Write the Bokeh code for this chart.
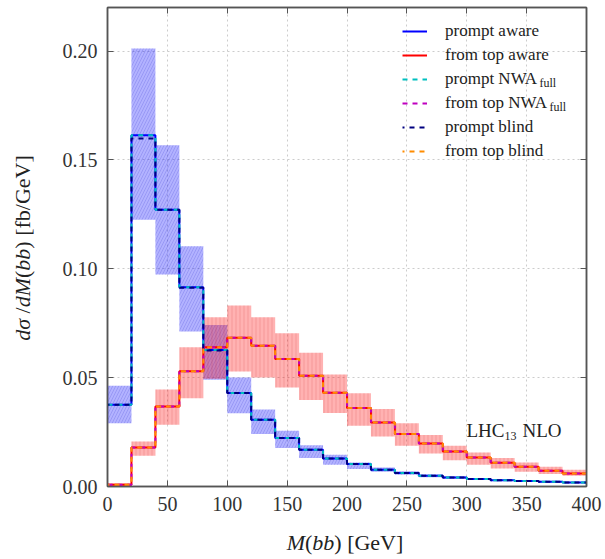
import math
from bokeh.plotting import figure
from bokeh.models import (ColumnDataSource, Legend, LegendItem, Label, LinearAxis,
                          FixedTicker, Range1d, CustomJSTickFormatter, Div)
from bokeh.layouts import row, column
from bokeh.embed import file_html
from bokeh.resources import INLINE

# ---- data ----
edges = list(range(0, 401, 20))

prompt_central = [0.0376, 0.1613, 0.1271, 0.0915, 0.0627, 0.0430, 0.0307, 0.0223, 0.0169,
                  0.0129, 0.0103, 0.0077, 0.0062, 0.0049, 0.0041, 0.0034, 0.0029, 0.0025,
                  0.0022, 0.0018]
prompt_blind = [0.0376, 0.1598, 0.1271, 0.0913, 0.0625, 0.0430, 0.0307, 0.0223, 0.0169,
                0.0129, 0.0103, 0.0077, 0.0062, 0.0049, 0.0041, 0.0034, 0.0029, 0.0025,
                0.0022, 0.0018]
prompt_hi = [0.0463, 0.2012, 0.1567, 0.1104, 0.0742, 0.0501, 0.0354, 0.0256, 0.0190,
             0.0146, 0.0110, 0.0087, 0.0070, 0.0055, 0.0046, 0.0038, 0.0033, 0.0028,
             0.0025, 0.0021]
prompt_lo = [0.0290, 0.1225, 0.0974, 0.0712, 0.0490, 0.0336, 0.0241, 0.0177, 0.0131,
             0.0100, 0.0080, 0.0068, 0.0054, 0.0043, 0.0036, 0.0030, 0.0025, 0.0022,
             0.0019, 0.0016]

top_central = [0.0008, 0.0179, 0.0368, 0.0529, 0.0639, 0.0683, 0.0647, 0.0586, 0.0509,
               0.0431, 0.0361, 0.0294, 0.0241, 0.0198, 0.0161, 0.0133, 0.0109, 0.0091,
               0.0072, 0.0060]
top_hi = [0.0015, 0.0207, 0.0445, 0.0639, 0.0777, 0.0831, 0.0777, 0.0704, 0.0614,
          0.0514, 0.0428, 0.0356, 0.0290, 0.0236, 0.0187, 0.0156, 0.0131, 0.0110,
          0.0091, 0.0077]
top_lo = [0.0002, 0.0141, 0.0284, 0.0405, 0.0495, 0.0528, 0.0501, 0.0455, 0.0397,
          0.0338, 0.0279, 0.0230, 0.0187, 0.0152, 0.0121, 0.0100, 0.0083, 0.0068,
          0.0057, 0.0049]

x_ticks = [0, 50, 100, 150, 200, 250, 300, 350, 400]
y_ticks = [0.00, 0.05, 0.10, 0.15, 0.20]

SERIF = "Liberation Serif"
YDIV_W = 45
XDIV_H = 33

p = figure(width=605 - YDIV_W, height=559 - XDIV_H, output_backend="svg", toolbar_location=None,
           x_range=Range1d(0, 400), y_range=Range1d(0, 0.22),
           min_border_left=107 - YDIV_W, min_border_right=19, min_border_top=7,
           min_border_bottom=40, margin=0)
p.background_fill_color = "white"
p.border_fill_color = "white"
p.outline_line_color = "#555555"
p.outline_line_width = 1.5

for g in (p.xgrid, p.ygrid):
    g.grid_line_color = "#cccccc"
    g.grid_line_dash = "2 3"
    g.grid_line_width = 1
p.xgrid.ticker = FixedTicker(ticks=x_ticks)
p.ygrid.ticker = FixedTicker(ticks=y_ticks)


def style_axis(ax, ticks, show_labels):
    ax.ticker = FixedTicker(ticks=ticks)
    ax.major_tick_in = 6
    ax.major_tick_out = 0
    ax.minor_tick_line_color = None
    ax.axis_line_color = "#555555"
    ax.axis_line_width = 1.5
    ax.major_tick_line_color = "#555555"
    if show_labels:
        ax.major_label_text_font = SERIF
        ax.major_label_text_font_size = "20px"
        ax.major_label_text_color = "#333333"
        ax.major_label_standoff = 10
    else:
        ax.formatter = CustomJSTickFormatter(code="return '';")
        ax.major_label_standoff = 0


style_axis(p.xaxis[0], x_ticks, True)
style_axis(p.yaxis[0], y_ticks, True)
p.yaxis[0].formatter = CustomJSTickFormatter(code="return tick.toFixed(2);")
ax_r = LinearAxis()
style_axis(ax_r, y_ticks, False)
ax_t = LinearAxis()
style_axis(ax_t, x_ticks, False)
p.add_layout(ax_r, "right")
p.add_layout(ax_t, "above")

left = edges[:-1]
right = edges[1:]
src_p = ColumnDataSource(dict(left=left, right=right, top=prompt_hi, bottom=prompt_lo))
src_t = ColumnDataSource(dict(left=left, right=right, top=top_hi, bottom=top_lo))
p.quad(left="left", right="right", top="top", bottom="bottom", source=src_p,
       fill_color="#0000ff", fill_alpha=0.3, line_color=None,
       hatch_pattern="/", hatch_color="#3333cc", hatch_alpha=0.25, hatch_scale=6, hatch_weight=0.8)
p.quad(left="left", right="right", top="top", bottom="bottom", source=src_t,
       fill_color="#ff0000", fill_alpha=0.3, line_color=None,
       hatch_pattern="|", hatch_color="#cc3333", hatch_alpha=0.25, hatch_scale=4, hatch_weight=0.8)


def stepvals(v):
    return list(v) + [v[-1]]


lw = 2
r_pa = p.step(edges, stepvals(prompt_central), mode="after", line_color="#0000ff", line_width=lw)
r_ta = p.step(edges, stepvals(top_central), mode="after", line_color="#ff0000", line_width=lw)
r_pn = p.step(edges, stepvals(prompt_central), mode="after", line_color="#00bfbf", line_width=lw,
              line_dash="5 5")
r_tn = p.step(edges, stepvals(top_central), mode="after", line_color="#bf00bf", line_width=lw,
              line_dash="5 5")
r_pb = p.step(edges, stepvals(prompt_blind), mode="after", line_color="#000080", line_width=lw,
              line_dash="5 5", line_dash_offset=3)
r_tb = p.step(edges, stepvals(top_central), mode="after", line_color="#ff8c00", line_width=lw,
              line_dash="5 5", line_dash_offset=3)

legend = Legend(items=[
    LegendItem(label="prompt aware", renderers=[r_pa]),
    LegendItem(label="from top aware", renderers=[r_ta]),
    LegendItem(label="prompt NWA", renderers=[r_pn]),
    LegendItem(label="from top NWA", renderers=[r_tn]),
    LegendItem(label="prompt blind", renderers=[r_pb]),
    LegendItem(label="from top blind", renderers=[r_tb]),
], location=(295, 325), border_line_color=None, background_fill_alpha=0,
    label_text_font=SERIF, label_text_font_size="17px", label_text_color="#222222",
    glyph_width=25, glyph_height=20, label_height=20, spacing=4, label_standoff=18,
    padding=6, margin=0)
p.add_layout(legend)


def add_label(x, y, text, size, style="normal", align="left", baseline="middle"):
    p.add_layout(Label(x=x, y=y, x_units="screen", y_units="screen", text=text,
                       text_font=SERIF, text_font_size=size, text_font_style=style,
                       text_align=align, text_baseline=baseline, text_color="#222222"))


# subscripts of the legend
add_label(432, 404, "full", "12px")
add_label(442, 380, "full", "12px")

# LHC13 NLO
add_label(359, 56, "LHC", "19px")
add_label(397, 51, "13", "12px")
add_label(415, 56, "NLO", "19px")

font_css = "font-family:'Liberation Serif',serif; color:#222222; white-space:nowrap;"
ydiv = Div(width=YDIV_W, height=559 - XDIV_H, margin=0,
           text=('<div style="position:absolute; left:23px; top:248px; '
                 'transform:translate(-50%,-50%) rotate(-90deg); font-size:22px; ' + font_css + '">'
                 '<i>d&sigma;</i> /<i>dM</i>(<i>bb</i>) [fb/GeV]</div>'))
xdiv = Div(width=605, height=XDIV_H, margin=0,
           text=('<div style="position:absolute; left:345px; top:17px; '
                 'transform:translate(-50%,-50%); font-size:22px; ' + font_css + '">'
                 '<i>M</i>(<i>bb</i>) [GeV]</div>'))

layout = column(row(ydiv, p, spacing=0, margin=0), xdiv, spacing=0, margin=0)

open("out.html", "w").write(file_html(layout, INLINE))
